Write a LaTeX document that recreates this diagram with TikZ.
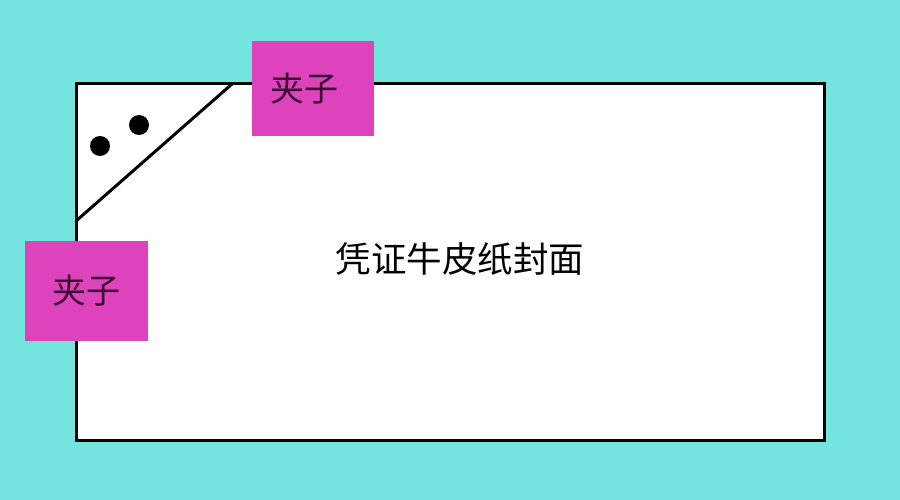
\documentclass[tikz,border=0pt]{standalone}
\usepackage{fontspec}
\usepackage{xcolor}
\usepackage{tikz}
\newfontfamily\cjk{Noto Sans CJK SC}
\definecolor{bg}{HTML}{74E4DF}
\definecolor{paper}{HTML}{FFFFFF}
\definecolor{ink}{HTML}{000000}
\definecolor{clip}{HTML}{DD44BB}
\definecolor{cliptext}{HTML}{3A0A35}
\tikzset{
  cover/.style={draw=ink, fill=paper, line width=3pt, inner sep=0pt},
  clipbox/.style={fill=clip, inner sep=0pt, text=cliptext, font=\cjk\fontsize{34}{34}\selectfont},
  fold/.style={draw=ink, line width=3pt, line cap=round},
  hole/.style={circle, fill=ink, inner sep=0pt, minimum size=20pt},
  lab/.style={text=ink, font=\cjk\fontsize{35.5}{35.5}\selectfont},
}
\begin{document}
\begin{tikzpicture}[x=1pt,y=-1pt]
  \fill[bg] (0,0) rectangle (900,500);
  \useasboundingbox (0,0) rectangle (900,500);

  % cover sheet
  \node[cover, minimum width=748pt, minimum height=356pt] (cover) at (450,262) {};
  \node[lab] (title) at (460,259) {凭证牛皮纸封面};

  % folded corner
  \coordinate (foldA) at (232,84);
  \coordinate (foldB) at (76,221);
  \draw[fold] (foldA) -- (foldB);
  \node[hole] (holeA) at (100,146) {};
  \node[hole] (holeB) at (139,125) {};

  % clips
  \node[clipbox, minimum width=122pt, minimum height=95pt] (clipT) at (313,88.5) {};
  \node[clipbox, minimum width=123pt, minimum height=100pt] (clipL) at (86.5,291) {夹子};
  \node[clipbox, fill=none] (clipTtext) at (304,88.5) {夹子};
\end{tikzpicture}
\end{document}
